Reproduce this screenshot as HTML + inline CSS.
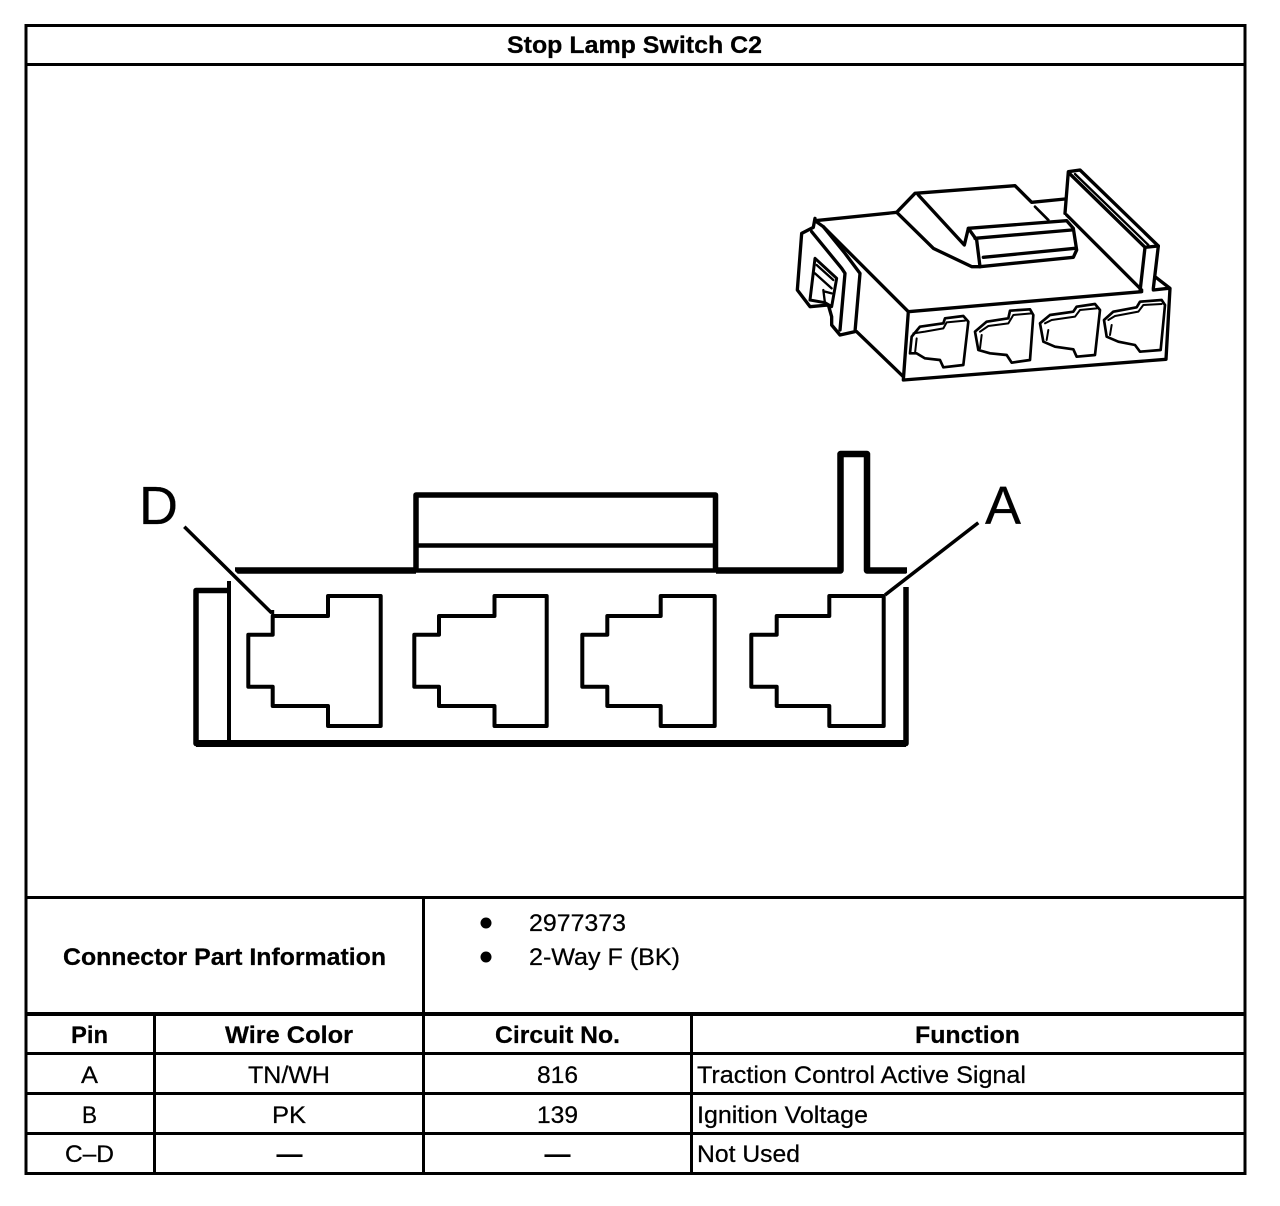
<!DOCTYPE html>
<html><head><meta charset="utf-8"><style>
html,body{margin:0;padding:0;background:#fff;width:1280px;height:1206px;overflow:hidden}
svg{display:block}
text{font-family:"Liberation Sans",sans-serif;font-size:24px;fill:#000;stroke:#000;stroke-width:.25}
.b{font-weight:bold}
</style></head><body>
<svg width="1280" height="1206" viewBox="0 0 1280 1206" xmlns="http://www.w3.org/2000/svg">
<rect width="1280" height="1206" fill="#fff"/>
<g stroke="#000" stroke-width="3" fill="none">
<path d="M24.500 25.500H1246.500M24.500 64.500H1246.500M24.500 897.500H1246.500M24.500 1053.500H1246.500M24.500 1093.500H1246.500M24.500 1133.500H1246.500M24.500 1173.500H1246.500"/>
<path d="M26 24V1175M1245 24V1175M423.500 897V1173M154.500 1014V1173M691.500 1014V1173"/>
<path d="M24.500 1014H1246.500" stroke-width="4"/>
</g>
<text class="b" x="507" y="53" textLength="255" lengthAdjust="spacingAndGlyphs">Stop Lamp Switch C2</text>
<text class="b" x="63" y="965" textLength="323" lengthAdjust="spacingAndGlyphs">Connector Part Information</text>
<circle cx="486" cy="923" r="5.500"/><circle cx="486" cy="957" r="5.500"/>
<text x="529" y="931" textLength="97" lengthAdjust="spacingAndGlyphs">2977373</text>
<text x="529" y="965" textLength="151" lengthAdjust="spacingAndGlyphs">2-Way F (BK)</text>
<text class="b" x="71" y="1043" textLength="37" lengthAdjust="spacingAndGlyphs">Pin</text>
<text class="b" x="225" y="1043" textLength="128" lengthAdjust="spacingAndGlyphs">Wire Color</text>
<text class="b" x="495" y="1043" textLength="125" lengthAdjust="spacingAndGlyphs">Circuit No.</text>
<text class="b" x="915" y="1043" textLength="105" lengthAdjust="spacingAndGlyphs">Function</text>
<text x="81" y="1083" textLength="17" lengthAdjust="spacingAndGlyphs">A</text>
<text x="248" y="1083" textLength="82" lengthAdjust="spacingAndGlyphs">TN/WH</text>
<text x="537" y="1083" textLength="41" lengthAdjust="spacingAndGlyphs">816</text>
<text x="697" y="1083" textLength="329" lengthAdjust="spacingAndGlyphs">Traction Control Active Signal</text>
<text x="82" y="1123" textLength="15" lengthAdjust="spacingAndGlyphs">B</text>
<text x="272" y="1123" textLength="34" lengthAdjust="spacingAndGlyphs">PK</text>
<text x="537" y="1123" textLength="41" lengthAdjust="spacingAndGlyphs">139</text>
<text x="697" y="1123" textLength="171" lengthAdjust="spacingAndGlyphs">Ignition Voltage</text>
<text x="65" y="1162" textLength="49" lengthAdjust="spacingAndGlyphs">C–D</text>
<text x="277" y="1162" textLength="25" lengthAdjust="spacingAndGlyphs" style="stroke-width:1">—</text>
<text x="545" y="1162" textLength="25" lengthAdjust="spacingAndGlyphs" style="stroke-width:1">—</text>
<text x="697" y="1162" textLength="103" lengthAdjust="spacingAndGlyphs">Not Used</text>

<!-- Front view -->
<g stroke="#000" fill="none" stroke-linejoin="round">
<path d="M235 570.500H416M716 570.500H840.500V454H867V570.500H907" stroke-width="6.500"/>
<path d="M416 570.500H716" stroke-width="4.500"/>
<path d="M416 570V495H715.500V570" stroke-width="5.500"/>
<path d="M416 545.500H715.500" stroke-width="4.500"/>
<path d="M229 581V743" stroke-width="4"/>
<path d="M229 590.500H196V743.500H906V587" stroke-width="5.500"/>
<path d="M196 743.500H906" stroke-width="7"/>
<path d="M380.700 596H328V616H272.700V634.700H248.300V686.700H272.700V706H328V726H380.700Z" stroke-width="4"/>
<path d="M546.700 596H494.500V616H439V634.700H414.300V686.700H439V706H494.500V726H546.700Z" stroke-width="4"/>
<path d="M714.700 596H660.700V616H607.300V634.700H582.300V686.700H607.300V706H660.700V726H714.700Z" stroke-width="4"/>
<path d="M883.700 596H829.300V616H776.700V634.700H751.300V686.700H776.700V706H829.300V726H883.700Z" stroke-width="4"/>
<path d="M184.300 526.700L271.700 613M978.300 522.700L885 595" stroke="#fff" stroke-width="8"/>
<path d="M184.300 526.700L271.700 613M978.300 522.700L885 595" stroke-width="3.500"/>
<path d="M272.700 616V610" stroke-width="3"/>
</g>
<text x="139" y="524" style="font-size:54px">D</text>
<text x="985" y="524" style="font-size:54px">A</text>

<!-- Isometric view -->
<g transform="translate(780 150) scale(.33333)" stroke="#000" fill="none" stroke-width="10" stroke-linejoin="round" stroke-linecap="round">
<path d="M105 212L350 187L405 130L705 107L755 157L855 147"/>
<path d="M855 190L865 65L900 60L1135 288L1120 415"/>
<path d="M870 72L1095 292L1080 425M1095 292L1135 288" stroke-width="10"/>
<path d="M885 72L1105 285" stroke-width="7"/>
<path d="M1125 380L1170 415L1158 628L370 690L385 485L1085 425M1120 420L1165 415"/>
<path d="M130 230L385 485M230 545L370 680"/>
<path d="M350 187L460 295L575 350L600 350L880 322L890 300L880 235L860 212L565 235L553 285L415 135"/>
<path d="M565 235L590 270L600 350M585 265L875 240M610 322L885 295"/>
<path d="M765 170L805 210" stroke-width="8"/>
<path d="M860 195L1085 420"/>
<path d="M105 205L100 232L65 250L52 420L90 470L145 465L155 500L155 525L180 555L225 545L240 370L195 310L130 230L105 212"/>
<path d="M95 245L185 355L195 370L180 540" stroke-width="10"/>
<path d="M105 325L90 450L135 458L155 470L170 385Z" stroke-width="9"/>
<path d="M110 345L160 390M105 370L155 415M130 420L135 460M135 425L155 430" stroke-width="7"/>
<path d="M395 560L420 530L490 520L495 505L550 498L565 515L550 645L490 652L480 630L435 625L410 610L390 610Z" stroke-width="8"/>
<path d="M400 550L435 545L490 535L500 517L555 512M410 565L405 610" stroke-width="6"/>
<path d="M585 545L620 515L685 505L690 482L750 478L760 495L750 630L695 638L680 615L630 610L595 600Z" stroke-width="8"/>
<path d="M600 545L625 528L685 520L700 495L755 490M605 555L600 595" stroke-width="6"/>
<path d="M780 520L810 495L880 485L890 470L945 462L960 480L945 615L890 620L880 598L825 590L790 575Z" stroke-width="8"/>
<path d="M795 520L815 510L885 500L900 480L950 475M805 540L800 570" stroke-width="6"/>
<path d="M972 510L1000 485L1070 472L1080 455L1145 450L1155 465L1142 600L1080 605L1065 585L1015 575L980 560Z" stroke-width="8"/>
<path d="M985 510L1005 498L1075 485L1090 465L1145 462M995 525L990 555" stroke-width="6"/>
</g>
</svg>
</body></html>
